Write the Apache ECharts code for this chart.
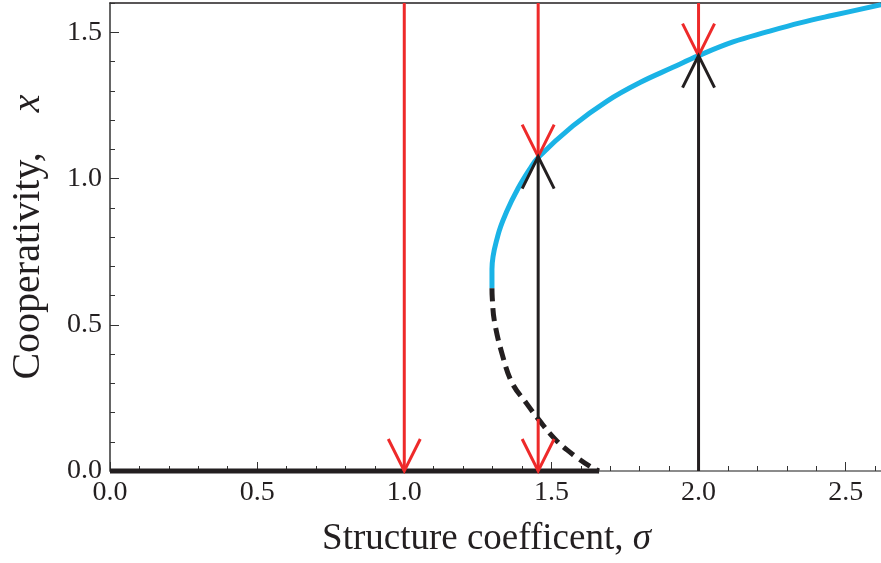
<!DOCTYPE html>
<html>
<head>
<meta charset="utf-8">
<script src="https://cdn.jsdelivr.net/npm/echarts@6/dist/echarts.min.js"></script>
</head>
<body style="margin: 0">
<div id="main" style="width: 881px; height: 563px;"></div>
<script type="text/javascript">
// stable branch (upper, blue) : [sigma, x]
var stableBranch = [
    [1.298, 0.625], [1.298, 0.69], [1.318, 0.805], [1.348, 0.887], [1.386, 0.965],
    [1.427, 1.033], [1.455, 1.072], [1.573, 1.18], [1.688, 1.264], [1.801, 1.328],
    [1.913, 1.38], [2.0, 1.42], [2.117, 1.467], [2.232, 1.501], [2.345, 1.532],
    [2.457, 1.558], [2.62, 1.594]
];
// unstable branch (dashed)
var unstableBranch = [
    [1.298, 0.625], [1.299, 0.592], [1.306, 0.514], [1.333, 0.398], [1.367, 0.3],
    [1.414, 0.233], [1.455, 0.178], [1.516, 0.105], [1.584, 0.048], [1.64, 0.01],
    [1.662, 0]
];
// x = 0 branch
var zeroBranch = [[0, 0], [1.662, 0]];
// arrows: [sigma, from, to]
var arrows = [
    [1.0, 1.6, 0],
    [1.455, 1.6, 1.075],
    [1.455, 0.178, 1.075],
    [1.455, 0.178, 0],
    [2.0, 1.6, 1.42],
    [2.0, 0, 1.42]
];
var arrowColors = ['red', 'red', 'black', 'red', 'red', 'black'];
var xTicks = ['0.0', '0.5', '1.0', '1.5', '2.0', '2.5'];
var yTicks = ['0.0', '0.5', '1.0', '1.5'];

var RED = '#ee2a2a', BLACK = '#231f20', BLUE = '#1ab3e6';
var FONT = 'Liberation Serif';

var chart = echarts.init(document.getElementById('main'));

function fmt(list) {
    return function (v) {
        var s = v.toFixed(1);
        return list.indexOf(s) >= 0 ? s : '';
    };
}

var option = {
    animation: false,
    grid: { left: 110, right: 0, top: 3, bottom: 89 },
    xAxis: [{
        type: 'value', min: 0, max: 2.62, interval: 0.5,
        axisLine: { lineStyle: { color: '#666', width: 1.5 } },
        axisTick: { inside: true, length: 9, lineStyle: { color: '#333' } },
        axisLabel: { showMaxLabel: false, formatter: fmt(xTicks), color: '#231f20',
            fontFamily: FONT, fontSize: 28, margin: 8 },
        splitLine: { show: false },
        name: '{a|Structure coefficent, }{b|σ}',
        nameLocation: 'middle', nameGap: 50,
        nameTextStyle: { padding: [0, 18, 0, 0], rich: {
            a: { fontFamily: FONT, fontSize: 37, color: '#231f20' },
            b: { fontFamily: FONT, fontSize: 37, fontStyle: 'italic', color: '#231f20' }
        } }
    }, {
        type: 'value', min: 0, max: 2.62, interval: 0.1, position: 'bottom',
        axisLine: { show: false },
        axisTick: { inside: true, length: 5, lineStyle: { color: '#333' } },
        axisLabel: { show: false },
        splitLine: { show: false }
    }, {
        type: 'value', min: 0, max: 2.62, position: 'top',
        axisLine: { lineStyle: { color: '#231f20', width: 1.5 } },
        axisTick: { show: false }, axisLabel: { show: false },
        splitLine: { show: false }
    }],
    yAxis: [{
        type: 'value', min: 0, max: 1.6, interval: 0.5,
        axisLine: { lineStyle: { color: '#333', width: 1.5 } },
        axisTick: { inside: true, length: 9, lineStyle: { color: '#333' } },
        axisLabel: { showMaxLabel: false, formatter: fmt(yTicks), color: '#231f20',
            fontFamily: FONT, fontSize: 28, margin: 8 },
        splitLine: { show: false },
        name: '{a|Cooperativity,    }{b|x}',
        nameLocation: 'middle', nameGap: 62,
        nameTextStyle: { rich: {
            a: { fontFamily: FONT, fontSize: 40, color: '#231f20' },
            b: { fontFamily: FONT, fontSize: 40, fontStyle: 'italic', color: '#231f20' }
        } }
    }, {
        type: 'value', min: 0, max: 1.6, interval: 0.1, position: 'left',
        axisLine: { show: false },
        axisTick: { inside: true, length: 5, lineStyle: { color: '#333' } },
        axisLabel: { show: false },
        splitLine: { show: false }
    }],
    series: [{
        type: 'line', data: stableBranch, smooth: 0.4, showSymbol: false, clip: false,
        lineStyle: { color: BLUE, width: 5 }, z: 3
    }, {
        type: 'line', data: unstableBranch, smooth: 0.4, showSymbol: false, clip: false,
        lineStyle: { color: BLACK, width: 5, type: [13, 7], cap: 'butt' }, z: 3
    }, {
        type: 'line', data: zeroBranch, showSymbol: false, clip: false,
        lineStyle: { color: BLACK, width: 5 }, z: 4
    }, {
        type: 'custom', data: arrows, clip: false, z: 5,
        renderItem: function (params, api) {
            var s = api.value(0);
            var p0 = api.coord([s, api.value(1)]);
            var p1 = api.coord([s, api.value(2)]);
            var dir = p1[1] > p0[1] ? 1 : -1;
            var col = arrowColors[params.dataIndex] === 'red' ? RED : BLACK;
            var st = { stroke: col, lineWidth: 3, fill: null };
            return {
                type: 'group',
                children: [{
                    type: 'line',
                    shape: { x1: p0[0], y1: p0[1], x2: p1[0], y2: p1[1] },
                    style: st
                }, {
                    type: 'polyline',
                    shape: { points: [[p1[0] - 16, p1[1] - dir * 32], [p1[0], p1[1]], [p1[0] + 16, p1[1] - dir * 32]] },
                    style: st
                }]
            };
        }
    }]
};
chart.setOption(option);
</script>
</body>
</html>
